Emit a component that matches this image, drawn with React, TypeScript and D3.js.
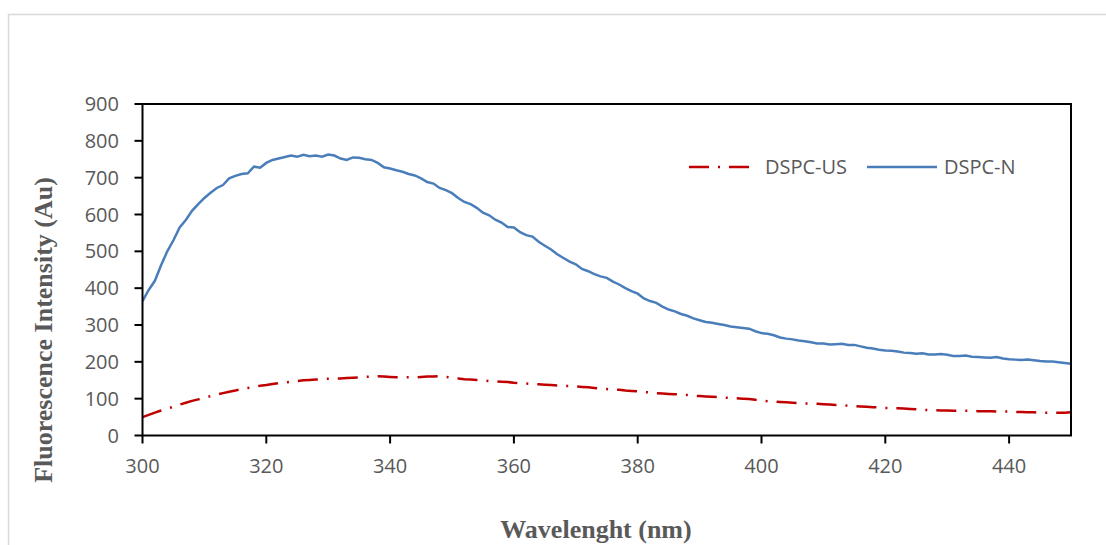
import React from "react";
import * as d3 from "d3";

const waveStart = 300;
const dspcN = [
  365, 395, 420, 462, 500, 530, 565, 585, 610, 628, 645, 659, 672, 680, 698, 705, 710, 712, 730, 727,
  740, 748, 752, 756, 760, 757, 762, 758, 760, 757, 763, 760, 752, 748, 755, 754, 750, 748, 740, 728,
  725, 720, 716, 710, 706, 698, 688, 684, 672, 666, 658, 645, 634, 628, 618, 605, 598, 586, 578, 566,
  565, 552, 544, 540, 526, 515, 505, 492, 482, 472, 465, 452, 446, 438, 432, 428, 418, 410, 400, 392,
  385, 372, 365, 360, 350, 342, 337, 330, 325, 318, 313, 308, 306, 303, 300, 296, 294, 292, 290, 283,
  278, 276, 272, 266, 263, 261, 258, 256, 253, 250, 250, 247, 248, 249, 246, 246, 242, 238, 236, 233,
  231, 230, 228, 225, 224, 222, 223, 220, 220, 221, 219, 216, 216, 217, 214, 213, 212, 211, 213, 209,
  207, 206, 205, 206, 204, 202, 201, 201, 199, 197, 195,
];
const dspcUS = [
  50, 56, 62, 68, 73, 78, 84, 89, 94, 98, 103, 107, 111, 115, 119, 122, 126, 129, 132, 135,
  137, 140, 142, 144, 146, 148, 150, 151, 152, 153, 154, 155, 155, 156, 157, 158, 159, 160, 161, 160,
  159, 158, 158, 158, 158, 159, 160, 160, 161, 159, 157, 155, 153, 152, 151, 150, 148, 147, 146, 145,
  143, 142, 141, 140, 139, 138, 137, 136, 135, 134, 133, 132, 131, 129, 127, 126, 125, 124, 122, 121,
  120, 118, 117, 115, 114, 113, 112, 111, 110, 108, 107, 106, 105, 104, 103, 102, 101, 100, 99, 97,
  95, 93, 92, 91, 90, 89, 88, 87, 87, 86, 85, 84, 83, 82, 81, 80, 79, 78, 77, 76,
  75, 74, 74, 73, 72, 71, 70, 69, 69, 68, 68, 67, 67, 67, 67, 66, 66, 66, 65, 65,
  65, 64, 64, 63, 63, 62, 62, 62, 62, 62, 63,
];
const xTicks = [300, 320, 340, 360, 380, 400, 420, 440];
const yTicks = [0, 100, 200, 300, 400, 500, 600, 700, 800, 900];
const seriesNames = ["DSPC-US", "DSPC-N"];

const W = 1106;
const H = 545;
const L = 142.5;
const R = 1071;
const T = 104;
const B = 435.5;

export default function App() {
  const x = d3.scaleLinear().domain([300, 450]).range([L, R]);
  const y = d3.scaleLinear().domain([0, 900]).range([B, T]);
  const line = d3
    .line<number>()
    .x((_, i) => x(waveStart + i))
    .y((d) => y(d));
  const tickFont = "'Open Sans', 'Liberation Sans', sans-serif";
  const titleFont = "'Liberation Serif', 'Times New Roman', serif";
  const gray = "#595959";
  const red = "#C00000";
  const blue = "#4A7EBB";
  return (
    <svg
      width={W}
      height={H}
      style={{ position: "absolute", left: 0, top: 0, background: "#fff" }}
    >
      <rect x={0} y={0} width={W} height={H} fill="#fff" />
      <rect x={8.5} y={14.5} width={1200} height={700} fill="none" stroke="#d9d9d9" strokeWidth={1.5} />
      <defs>
        <clipPath id="plot">
          <rect x={L} y={T} width={R - L} height={B - T} />
        </clipPath>
      </defs>
      <g clipPath="url(#plot)">
        <path d={line(dspcUS) || ""} fill="none" stroke={red} strokeWidth={2.5} strokeDasharray="20 9 2 9" />
        <path d={line(dspcN) || ""} fill="none" stroke={blue} strokeWidth={2.5} />
      </g>
      <rect x={L} y={T} width={R - L} height={B - T} fill="none" stroke="#000" strokeWidth={2} />
      {yTicks.map((t) => (
        <g key={"y" + t}>
          <line x1={L - 8} x2={L} y1={y(t)} y2={y(t)} stroke="#000" strokeWidth={2} />
          <text x={119} y={y(t) + 7} textAnchor="end" fontFamily={tickFont} fontSize={20} fill={gray}>
            {t}
          </text>
        </g>
      ))}
      {xTicks.map((t) => (
        <g key={"x" + t}>
          <line x1={x(t)} x2={x(t)} y1={B} y2={B + 8} stroke="#000" strokeWidth={2} />
          <text x={x(t)} y={473} textAnchor="middle" fontFamily={tickFont} fontSize={20} fill={gray}>
            {t}
          </text>
        </g>
      ))}
      <text
        transform="translate(52,330) rotate(-90)"
        textAnchor="middle"
        fontFamily={titleFont}
        fontWeight="bold"
        fontSize={26}
        fill={gray}
      >
        Fluorescence Intensity (Au)
      </text>
      <text x={596} y={538} textAnchor="middle" fontFamily={titleFont} fontWeight="bold" fontSize={26} fill={gray}>
        Wavelenght (nm)
      </text>
      <g>
        <line x1={689} x2={749} y1={167} y2={167} stroke={red} strokeWidth={2.5} strokeDasharray="20 9 2 9" />
        <text x={765} y={174} fontFamily={tickFont} fontSize={20} fill={gray}>
          {seriesNames[0]}
        </text>
        <line x1={867} x2={937} y1={167} y2={167} stroke={blue} strokeWidth={2.5} />
        <text x={944} y={174} fontFamily={tickFont} fontSize={20} fill={gray}>
          {seriesNames[1]}
        </text>
      </g>
    </svg>
  );
}
